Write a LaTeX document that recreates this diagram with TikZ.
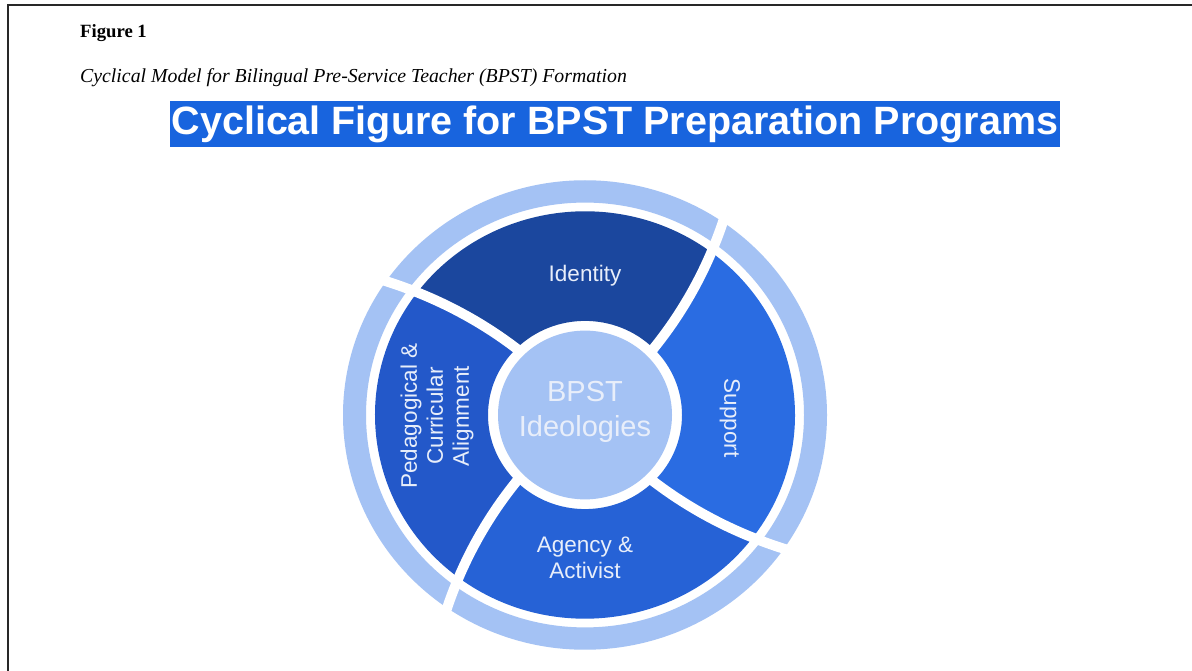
\documentclass[tikz,border=0pt]{standalone}
\usepackage{fontspec}
\setmainfont{Liberation Serif}
\newfontfamily\lsans{Liberation Sans}
\definecolor{idc}{RGB}{27,71,158}
\definecolor{supc}{RGB}{42,108,226}
\definecolor{agc}{RGB}{38,98,214}
\definecolor{pedc}{RGB}{35,88,201}
\definecolor{lightc}{RGB}{164,194,244}
\definecolor{titlec}{RGB}{24,100,222}
\definecolor{labc}{RGB}{232,238,250}
\definecolor{framec}{RGB}{40,40,40}
\tikzset{
  seglabel/.style={text=labc, font=\lsans\fontsize{22.5}{26}\selectfont, align=center, inner sep=0pt},
  corelabel/.style={text=labc, font=\lsans\fontsize{29}{35}\selectfont, align=center, inner sep=0pt},
  gapline/.style={white, line width=10pt},
  spiral/.style={domain=#1, samples=30}
}
\begin{document}
\begin{tikzpicture}[x=1pt,y=1pt]
\useasboundingbox (0,0) rectangle (1192,671);
\fill[white] (0,0) rectangle (1192,671);
\draw[framec, line width=2pt] (7.5,0) -- (7.5,666) -- (1192,666);

\node[anchor=base west, inner sep=0pt, font=\bfseries\fontsize{18.7}{22}\selectfont] (fig) at (80,633) {Figure 1};
\node[anchor=base west, inner sep=0pt, font=\itshape\fontsize{19.8}{23}\selectfont] (cap) at (80,588) {Cyclical Model for Bilingual Pre-Service Teacher (BPST) Formation};
\node[fill=titlec, text=white, minimum width=890pt, minimum height=46pt, inner sep=0pt, font=\lsans\bfseries\fontsize{39.5}{46}\selectfont] (title) at (615,547) {Cyclical Figure for BPST Preparation Programs};

\begin{scope}[shift={(585,256)}, yscale=0.97]
  \fill[lightc, even odd rule] (0,0) circle[radius=242] (0,0) circle[radius=219];
  \fill[idc] (45:97) arc[start angle=45,end angle=135,radius=97]
     -- plot[spiral=97:210] ({135+8*(\x-97)/113}:\x)
     arc[start angle=143,end angle=53,radius=210]
     -- plot[spiral=210:97] ({45+8*(\x-97)/113}:\x) -- cycle;
  \fill[supc] (-45:97) arc[start angle=-45,end angle=45,radius=97]
     -- plot[spiral=97:210] ({45+8*(\x-97)/113}:\x)
     arc[start angle=53,end angle=-37,radius=210]
     -- plot[spiral=210:97] ({-45+8*(\x-97)/113}:\x) -- cycle;
  \fill[agc] (-135:97) arc[start angle=-135,end angle=-45,radius=97]
     -- plot[spiral=97:210] ({-45+8*(\x-97)/113}:\x)
     arc[start angle=-37,end angle=-127,radius=210]
     -- plot[spiral=210:97] ({-135+8*(\x-97)/113}:\x) -- cycle;
  \fill[pedc] (135:97) arc[start angle=135,end angle=225,radius=97]
     -- plot[spiral=97:210] ({225+8*(\x-97)/113}:\x)
     arc[start angle=233,end angle=143,radius=210]
     -- plot[spiral=210:97] ({135+8*(\x-97)/113}:\x) -- cycle;
  \foreach \b in {45,135,225,315}
    \draw[gapline] plot[spiral=90:252] ({\b+8*(\x-97)/113}:\x);
  \fill[lightc] (0,0) circle[radius=87];
\end{scope}

\node[corelabel] (core) at (585,259) {BPST\\Ideologies};
\node[seglabel] (identity) at (585,395) {Identity};
\node[seglabel, rotate=-90] (support) at (730,253) {Support};
\node[seglabel] (agency) at (585,113) {Agency \&\\Activist};
\node[seglabel, rotate=90] (ped) at (437,255) {Pedagogical \&\\Curricular\\Alignment};
\end{tikzpicture}
\end{document}
